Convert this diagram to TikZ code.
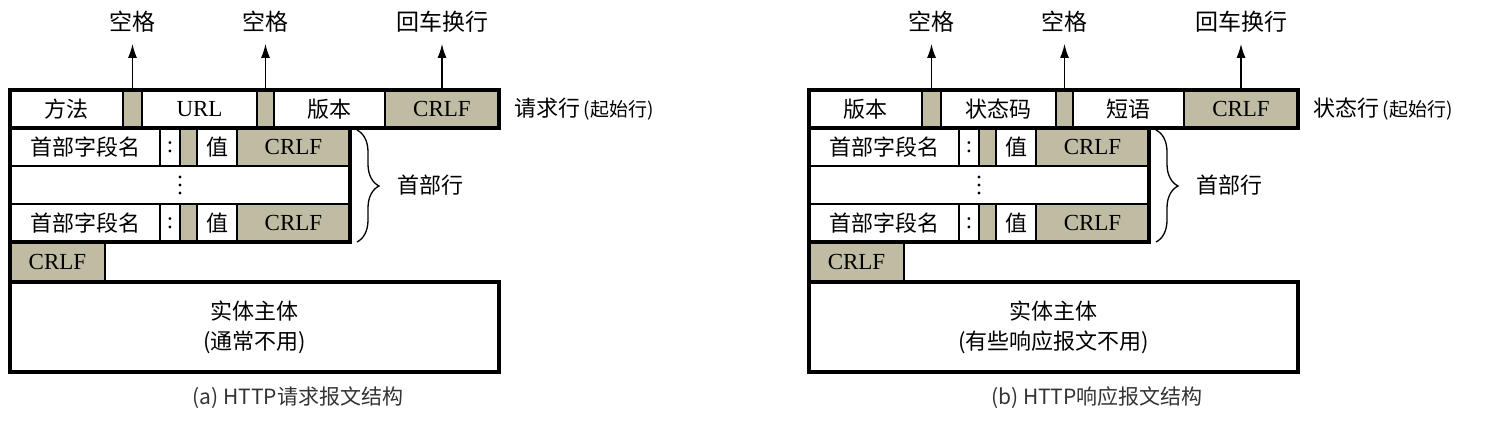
\documentclass[tikz,border=0pt]{standalone}
\usepackage{fontspec}
\setmainfont{Liberation Serif}
\newfontfamily\cjk{Noto Sans CJK SC}
\usetikzlibrary{arrows.meta,decorations.pathreplacing}
\definecolor{crlfgray}{RGB}{192,188,164}
\tikzset{
	cell/.style={draw, line width=1.9pt, inner sep=0pt, outer sep=0pt, anchor=north west, minimum height=38pt, font=\cjk\fontsize{22}{24}\selectfont},
	gap/.style={cell, fill=crlfgray},
	latin/.style={font=\fontsize{23}{24}\selectfont},
	crlf/.style={gap, latin},
	outline/.style={line width=3.4pt},
	uparrow/.style={line width=1.5pt, -{Latex[length=14pt,width=9pt]}, shorten >=11pt},
	tag/.style={inner sep=0pt, font=\cjk\fontsize{23}{26}\selectfont},
	dot/.style={fill=black, draw=none},
	caption/.style={font=\cjk\fontsize{21}{24}\selectfont, text=black!80}
}

\begin{document}
\begin{tikzpicture}[x=1pt, y=-1pt]
	\useasboundingbox (0,0) rectangle (1487,420);
	
	%%%%% (a) REQUEST %%%%%
	
	\node[cell, minimum width=113pt] (rqMethod) at (10,90) {方法};
	\node[gap, minimum width=19pt] (rqSpA) at (123,90) {};
	\node[cell, latin, minimum width=115pt] (rqUrl) at (142,90) {URL};
	\node[gap, minimum width=17pt] (rqSpB) at (257,90) {};
	\node[cell, minimum width=111pt] (rqVer) at (274,90) {版本};
	\node[crlf, minimum width=114pt] (rqCrlf) at (385,90) {CRLF};
	
	\node[tag] (rqTagA) at (rqSpA.north |- 0,22) {空格};
	\node[tag] (rqTagB) at (rqSpB.north |- 0,22) {空格};
	\node[tag] (rqTagC) at (rqCrlf.north |- 0,22) {回车换行};
	\draw[uparrow] (rqSpA.north) -- (rqTagA.south);
	\draw[uparrow] (rqSpB.north) -- (rqTagB.south);
	\draw[uparrow] (rqCrlf.north) -- (rqTagC.south);
	\node[tag, anchor=west, font=\cjk\fontsize{22}{26}\selectfont] (rqLineTag) at (514,109) {请求行\,{\fontsize{19}{20}\selectfont(起始行)}};
	
	\node[cell, minimum width=150pt] (rqNameA) at (10,128) {首部字段名};
	\node[cell, latin, minimum width=20pt] (rqColonA) at (160,128) {:};
	\node[gap, minimum width=17pt] (rqSpC) at (180,128) {};
	\node[cell, minimum width=40pt] (rqValA) at (197,128) {值};
	\node[crlf, minimum width=113pt] (rqCrlfA) at (237,128) {CRLF};
	
	\node[cell, minimum width=340pt] (rqDots) at (10,166) {};
	\fill[dot] (180,177) circle (1.7) (180,185) circle (1.7) (180,193) circle (1.7);
	
	\node[cell, minimum width=150pt] (rqNameB) at (10,204) {首部字段名};
	\node[cell, latin, minimum width=20pt] (rqColonB) at (160,204) {:};
	\node[gap, minimum width=17pt] (rqSpD) at (180,204) {};
	\node[cell, minimum width=40pt] (rqValB) at (197,204) {值};
	\node[crlf, minimum width=113pt] (rqCrlfB) at (237,204) {CRLF};
	
	\draw[decorate, decoration={brace, amplitude=22pt}, line width=1.3pt] (357,130) -- (357,242);
	\node[tag, anchor=west, font=\cjk\fontsize{22}{26}\selectfont] (rqHdrTag) at (397,185) {首部行};
	
	\node[crlf, minimum width=95pt, minimum height=40pt] (rqEnd) at (10,242) {CRLF};
	\node[cell, minimum width=489pt, minimum height=90pt, align=center, font=\cjk\fontsize{22}{30}\selectfont] (rqBody) at (10,282) {实体主体\\(通常不用)};
	
	\draw[outline] (rqMethod.north west) rectangle (rqCrlf.south east);
	\draw[outline] (rqNameA.north west) rectangle (rqCrlfB.south east);
	\draw[outline] (rqEnd.north west) -- (rqEnd.south west);
	\draw[outline] (rqBody.north west) rectangle (rqBody.south east);
	
	\node[caption] (rqCaption) at (298,398) {(a) HTTP请求报文结构};
	
	%%%%% (b) RESPONSE %%%%%
	
	\begin{scope}[xshift=799pt]
		\node[cell, minimum width=113pt] (rsVer) at (10,90) {版本};
		\node[gap, minimum width=19pt] (rsSpA) at (123,90) {};
		\node[cell, minimum width=115pt] (rsCode) at (142,90) {状态码};
		\node[gap, minimum width=17pt] (rsSpB) at (257,90) {};
		\node[cell, minimum width=111pt] (rsPhrase) at (274,90) {短语};
		\node[crlf, minimum width=114pt] (rsCrlf) at (385,90) {CRLF};
		
		\node[tag] (rsTagA) at (rsSpA.north |- 0,22) {空格};
		\node[tag] (rsTagB) at (rsSpB.north |- 0,22) {空格};
		\node[tag] (rsTagC) at (rsCrlf.north |- 0,22) {回车换行};
		\draw[uparrow] (rsSpA.north) -- (rsTagA.south);
		\draw[uparrow] (rsSpB.north) -- (rsTagB.south);
		\draw[uparrow] (rsCrlf.north) -- (rsTagC.south);
		\node[tag, anchor=west, font=\cjk\fontsize{22}{26}\selectfont] (rsLineTag) at (514,109) {状态行\,{\fontsize{19}{20}\selectfont(起始行)}};
		
		\node[cell, minimum width=150pt] (rsNameA) at (10,128) {首部字段名};
		\node[cell, latin, minimum width=20pt] (rsColonA) at (160,128) {:};
		\node[gap, minimum width=17pt] (rsSpC) at (180,128) {};
		\node[cell, minimum width=40pt] (rsValA) at (197,128) {值};
		\node[crlf, minimum width=113pt] (rsCrlfA) at (237,128) {CRLF};
		
		\node[cell, minimum width=340pt] (rsDots) at (10,166) {};
		\fill[dot] (180,177) circle (1.7) (180,185) circle (1.7) (180,193) circle (1.7);
		
		\node[cell, minimum width=150pt] (rsNameB) at (10,204) {首部字段名};
		\node[cell, latin, minimum width=20pt] (rsColonB) at (160,204) {:};
		\node[gap, minimum width=17pt] (rsSpD) at (180,204) {};
		\node[cell, minimum width=40pt] (rsValB) at (197,204) {值};
		\node[crlf, minimum width=113pt] (rsCrlfB) at (237,204) {CRLF};
		
		\draw[decorate, decoration={brace, amplitude=22pt}, line width=1.3pt] (357,130) -- (357,242);
		\node[tag, anchor=west, font=\cjk\fontsize{22}{26}\selectfont] (rsHdrTag) at (397,185) {首部行};
		
		\node[crlf, minimum width=95pt, minimum height=40pt] (rsEnd) at (10,242) {CRLF};
		\node[cell, minimum width=489pt, minimum height=90pt, align=center, font=\cjk\fontsize{22}{30}\selectfont] (rsBody) at (10,282) {实体主体\\(有些响应报文不用)};
		
		\draw[outline] (rsVer.north west) rectangle (rsCrlf.south east);
		\draw[outline] (rsNameA.north west) rectangle (rsCrlfB.south east);
		\draw[outline] (rsEnd.north west) -- (rsEnd.south west);
		\draw[outline] (rsBody.north west) rectangle (rsBody.south east);
		
		\node[caption] (rsCaption) at (298,398) {(b) HTTP响应报文结构};
	\end{scope}
\end{tikzpicture}
\end{document}
